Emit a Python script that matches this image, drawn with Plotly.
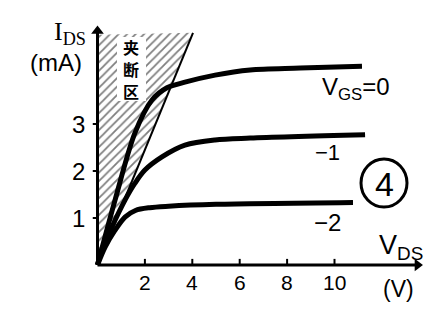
import plotly.graph_objects as go

# ---- data (V_DS in volts, I_DS in mA) ----
vds_0 = [0, 0.74, 1.58, 2.30, 2.93, 3.69, 4.96, 6.44, 8.55, 11.16]
ids_0 = [0, 1.38, 2.81, 3.51, 3.77, 3.89, 4.04, 4.15, 4.19, 4.23]

vds_m1 = [0, 0.19, 0.61, 1.16, 1.58, 2.00, 2.72, 3.69, 4.96, 6.44, 11.29]
ids_m1 = [0, 0.32, 0.81, 1.38, 1.74, 2.02, 2.30, 2.55, 2.66, 2.70, 2.77]

vds_m2 = [0, 0.32, 0.74, 1.16, 1.60, 2.20, 3.00, 5.00, 10.78]
ids_m2 = [0, 0.38, 0.74, 1.02, 1.16, 1.22, 1.25, 1.29, 1.33]

pinch_v = [0, 0, 4.03, 0]
pinch_i = [0, 4.90, 4.94, 0]
edge_v = [0, 4.03]
edge_i = [0, 4.94]

x_ticks = [2, 4, 6, 8, 10]
x_tick_labels = ["2", "4", "6", "8", "10"]
y_ticks = [1, 2, 3]
y_tick_labels = ["1", "2", "3"]
x_axis_end = 13.5
y_axis_end = 4.98
region_label = ["夹", "断", "区"]

W, H = 438, 312
X0, XS = 97.5, 23.7   # px of origin, px per volt
Y0, YS = 265.0, 47.0  # px of origin, px per mA

xr = [-X0 / XS, (W - X0) / XS]
yr = [(Y0 - H) / YS, Y0 / YS]

fig = go.Figure()

# pinch-off (hatched) region
fig.add_trace(go.Scatter(
    x=pinch_v, y=pinch_i, mode="none", fill="toself",
    fillcolor="white",
    fillpattern=dict(shape="/", fgcolor="black", bgcolor="white", size=6, solidity=0.3),
    hoverinfo="skip"))
fig.add_trace(go.Scatter(x=edge_v, y=edge_i, mode="lines",
                         line=dict(color="black", width=2), hoverinfo="skip"))

for xs, ys in [(vds_0, ids_0), (vds_m1, ids_m1), (vds_m2, ids_m2)]:
    fig.add_trace(go.Scatter(x=xs, y=ys, mode="lines",
                             line=dict(color="black", width=5, shape="spline", smoothing=0.9),
                             hoverinfo="skip"))

# axes + arrowheads
fig.add_trace(go.Scatter(x=[0, 0], y=[0, y_axis_end], mode="lines",
                         line=dict(color="black", width=3), hoverinfo="skip"))
fig.add_trace(go.Scatter(x=[0, x_axis_end], y=[0, 0], mode="lines",
                         line=dict(color="black", width=3), hoverinfo="skip"))
fig.add_trace(go.Scatter(x=[0], y=[y_axis_end], mode="markers",
                         marker=dict(symbol="triangle-up", size=11, color="black"), hoverinfo="skip"))
fig.add_trace(go.Scatter(x=[x_axis_end], y=[0], mode="markers",
                         marker=dict(symbol="triangle-right", size=11, color="black"), hoverinfo="skip"))

font_main = "Liberation Sans Narrow, Liberation Sans, DejaVu Sans"

ann = []
shapes = []
for t, lab in zip(x_ticks, x_tick_labels):
    shapes.append(dict(type="line", xref="x", yref="y", x0=t, x1=t, y0=0, y1=0.13,
                       line=dict(color="black", width=2)))
    ann.append(dict(x=t, y=-0.38, xref="x", yref="y", text=lab, showarrow=False,
                    xanchor="center", yanchor="middle",
                    font=dict(family=font_main, size=21, color="black")))
for t, lab in zip(y_ticks, y_tick_labels):
    shapes.append(dict(type="line", xref="x", yref="y", x0=-0.2, x1=0, y0=t, y1=t,
                       line=dict(color="black", width=2)))
    ann.append(dict(x=-0.82, y=t, xref="x", yref="y", text=lab, showarrow=False,
                    xanchor="center", yanchor="middle",
                    font=dict(family=font_main, size=24, color="black")))

def P(px, py):
    return px / W, 1 - py / H

def add_text(px, py, text, size, family=font_main, **kw):
    x, y = P(px, py)
    d = dict(x=x, y=y, xref="paper", yref="paper", text=text, showarrow=False,
             xanchor="center", yanchor="middle",
             font=dict(family=family, size=size, color="black"))
    d.update(kw)
    ann.append(d)

add_text(70, 33, "I<sub>DS</sub>", 26, family="Liberation Serif, DejaVu Serif")
add_text(56, 63, "(mA)", 24)

# white patch behind the vertical region label
shapes.append(dict(type="rect", xref="paper", yref="paper", layer="above",
                   x0=117 / W, x1=146 / W, y0=1 - 101 / H, y1=1 - 37 / H,
                   fillcolor="white", line=dict(width=0)))
for k, ch in enumerate(region_label):
    add_text(131, 47 + 22 * k, "<b>" + ch + "</b>", 16, family="Noto Sans CJK SC",
             borderpad=0)

add_text(356, 88, "V<sub>GS</sub>=0", 24)
add_text(327, 152, "−1", 22)
add_text(327, 222, "−2", 24)
add_text(401, 247, "V<sub>DS</sub>", 27)
add_text(398, 289, "(V)", 23)
add_text(384, 184, "4", 34)

shapes.append(dict(type="circle", xref="paper", yref="paper",
                   x0=(384 - 23) / W, x1=(384 + 23) / W,
                   y0=1 - (183 + 24) / H, y1=1 - (183 - 24) / H,
                   line=dict(color="black", width=3)))

fig.update_layout(
    width=W, height=H, margin=dict(l=0, r=0, t=0, b=0),
    paper_bgcolor="white", plot_bgcolor="white", showlegend=False,
    xaxis=dict(range=xr, visible=False, fixedrange=True),
    yaxis=dict(range=yr, visible=False, fixedrange=True),
    annotations=ann, shapes=shapes,
)

fig.write_html("out.html")
